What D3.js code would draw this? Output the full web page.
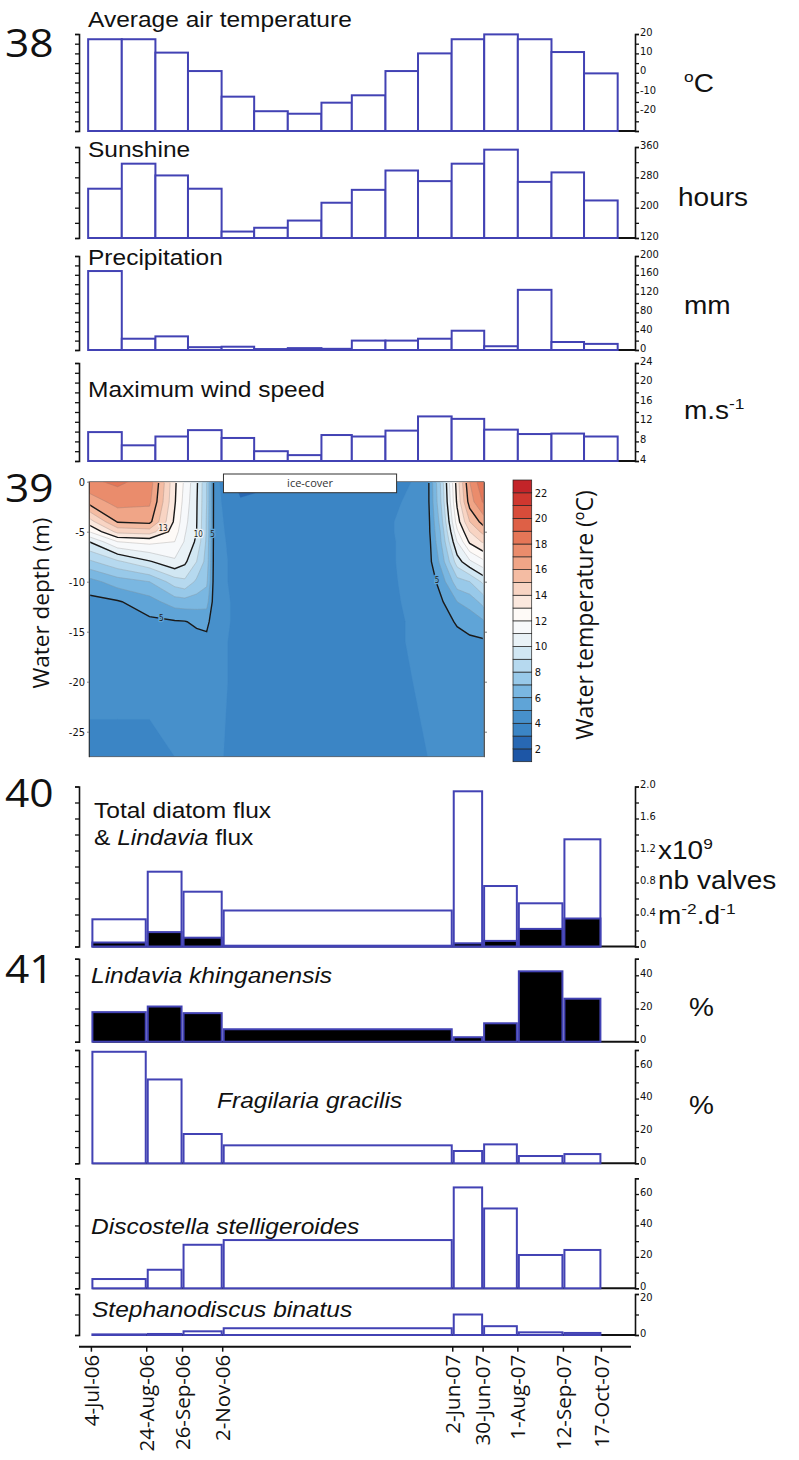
<!DOCTYPE html>
<html>
<head>
<meta charset="utf-8">
<title>Lake record 2006-2007</title>
<script src="https://cdn.jsdelivr.net/npm/d3@7/dist/d3.min.js"></script>
<style>
  body { margin: 0; background: #fff; }
  svg { display: block; }
</style>
</head>
<body>
<svg id="figure" width="799" height="1460"></svg>
<script>
// ---------------- data ----------------

// monthly meteorology, Jul 2006 - Oct 2007
const monthStarts = ["2006-07-01", "2006-08-01", "2006-09-01", "2006-10-01", "2006-11-01", "2006-12-01",
    "2007-01-01", "2007-02-01", "2007-03-01", "2007-04-01", "2007-05-01", "2007-06-01",
    "2007-07-01", "2007-08-01", "2007-09-01", "2007-10-01"];
const airTemperature = [17.3, 17.3, 10.4, 0.9, -12.3, -19.8, -21.1, -15.4, -11.6, 0.9, 10.0, 17.3, 19.8, 17.3, 10.7, -0.3];
const sunshineHours = [250, 316, 285, 250, 137, 147, 166, 213, 247, 298, 270, 316, 353, 268, 293, 219];
const precipitationMm = [168, 24, 29, 6, 7, 2, 4, 2.5, 20, 20, 24, 41, 8, 128, 17, 13];
const maxWindSpeed = [9.9, 7.2, 9.0, 10.3, 8.7, 6.0, 5.2, 9.3, 9.0, 10.2, 13.1, 12.6, 10.4, 9.5, 9.6, 9.0];

// sediment trap intervals
const sampleDates = ["2006-07-04", "2006-08-24", "2006-09-26", "2006-11-02", "2007-06-02",
    "2007-06-30", "2007-08-01", "2007-09-12", "2007-10-17"];
const sampleLabels = ["4-Jul-06", "24-Aug-06", "26-Sep-06", "2-Nov-06", "2-Jun-07",
    "30-Jun-07", "1-Aug-07", "12-Sep-07", "17-Oct-07"];
const totalDiatomFlux = [0.34, 0.935, 0.685, 0.45, 1.94, 0.756, 0.54, 1.34];
const lindaviaFlux = [0.05, 0.18, 0.11, 0.01, 0.04, 0.07, 0.22, 0.35];
const lindaviaPercent = [17.8, 21.2, 17.2, 7.5, 2.7, 11.1, 42.4, 25.9];
const fragilariaPercent = [68.9, 51.8, 18.1, 11.1, 7.6, 11.7, 4.5, 5.7];
const discostellaPercent = [5.9, 11.8, 27.7, 30.7, 64.2, 50.8, 21.2, 24.4];
const stephanodiscusPercent = [0.3, 0.5, 1.8, 3.3, 10.0, 4.3, 1.3, 1.0];

// water temperature profiles (one row per profile date, one value per depth)
const profileDates = ["2006-07-04", "2006-08-07", "2006-09-14", "2006-10-14", "2006-10-26", "2006-11-09",
    "2006-11-21", "2006-12-01", "2006-12-31", "2007-04-05", "2007-06-19", "2007-08-11",
    "2007-08-26", "2007-09-15", "2007-09-30", "2007-10-17"];
const profileDepths = [0, -2, -4, -5, -6, -8, -10, -12, -14, -16, -20, -27.5];
const waterTemperature = [
    [17.8, 16.4, 13.5, 12.0, 10.0, 7.8, 5.6, 4.7, 4.4, 4.3, 4.1, 3.9],
    [18.2, 17.4, 16.1, 14.3, 12.0, 8.8, 6.5, 4.9, 4.5, 4.3, 4.1, 3.9],
    [17.6, 17.2, 16.3, 14.5, 12.3, 9.9, 7.0, 5.6, 4.8, 4.4, 4.1, 3.9],
    [13.2, 13.1, 12.8, 12.5, 12.0, 10.8, 8.5, 6.5, 4.9, 4.6, 4.2, 4.0],
    [11.8, 11.6, 11.3, 11.1, 10.9, 10.2, 8.8, 6.6, 4.95, 4.7, 4.2, 4.0],
    [10.2, 10.1, 10.05, 10.0, 9.8, 9.0, 7.8, 6.5, 5.2, 4.6, 4.2, 4.0],
    [8.0, 8.0, 7.9, 7.9, 7.8, 7.6, 7.2, 6.4, 5.3, 4.7, 4.3, 4.1],
    [4.3, 4.3, 4.3, 4.3, 4.3, 4.3, 4.3, 4.3, 4.3, 4.2, 4.2, 4.1],
    [2.6, 3.1, 3.4, 3.5, 3.6, 3.7, 3.7, 3.8, 3.8, 3.8, 3.8, 3.8],
    [3.2, 3.6, 3.8, 3.8, 3.8, 3.8, 3.8, 3.8, 3.8, 3.8, 3.8, 3.8],
    [2.8, 3.5, 3.8, 3.8, 3.8, 3.8, 3.8, 3.8, 3.8, 3.8, 3.8, 3.8],
    [4.7, 4.7, 4.6, 4.6, 4.5, 4.5, 4.4, 4.3, 4.2, 4.2, 4.1, 4.0],
    [8.0, 7.8, 7.3, 7.0, 6.8, 6.2, 5.3, 4.8, 4.6, 4.4, 4.2, 4.0],
    [13.5, 13.2, 12.5, 11.8, 11.0, 9.5, 7.6, 6.0, 5.1, 4.7, 4.3, 4.1],
    [17.0, 16.5, 15.0, 14.0, 13.2, 10.8, 8.0, 6.4, 5.4, 4.8, 4.3, 4.1],
    [19.0, 18.2, 16.5, 15.4, 14.2, 11.8, 9.3, 7.4, 5.9, 4.85, 4.4, 4.2]
];
const iceCover = ["2006-12-11", "2007-07-05"];
const isothermLevels = d3.range(1, 23);        // 1 degC bands, 1..23
const labelledIsotherms = [5, 10, 13, 16];
const isothermLabels = [
    { value: 13, date: "2006-09-30", depth: -4.6 },
    { value: 10, date: "2006-11-11", depth: -5.2 },
    { value: 5, date: "2006-11-28", depth: -5.2 },
    { value: 5, date: "2006-09-28", depth: -13.6 },
    { value: 5, date: "2007-08-22", depth: -9.8 }
];
const colorbarTicks = [2, 4, 6, 8, 10, 12, 14, 16, 18, 20, 22];
const depthTicks = [0, -5, -10, -15, -20, -25];

// ---------------- styles ----------------
const bandColors = ["#1d56a6", "#2868b3", "#3b85c5", "#4790cb", "#5fa4d7", "#7ab7e1", "#98c9e9", "#b6d9ef",
    "#d1e7f3", "#e9f2f7", "#f7f9fb", "#fefaf7", "#fbe8de", "#f8d4c3", "#f4bca3", "#f0a587",
    "#ea8c6c", "#e57657", "#de6046", "#d84c3a", "#cf372f", "#c32429"];
const barBlue = "#4242b4";
const ink = "#111";
const sansFont = "'Liberation Sans', Arial, Helvetica, sans-serif";
const roundFont = "'Open Sans', 'Noto Sans', sans-serif";
const narrowFont = "'Liberation Sans Narrow', 'DejaVu Sans Condensed', 'Arial Narrow', sans-serif";

const parseDate = d3.timeParse("%Y-%m-%d");
const svg = d3.select("#figure");

const axisLeftX = 79, axisRightX = 635;

const xTime = d3.scaleTime()
    .domain([parseDate(sampleDates[0]), parseDate(sampleDates[sampleDates.length - 1])])
    .range([91.4, 601.4]);

// text with optional superscripts / italics, slightly widened like the original artwork
const richText = (parent, parts, x, y, size, opts = {}) => {
    const t = parent.append("text")
        .attr("transform", `translate(${x},${y}) ${opts.rotate ? `rotate(${opts.rotate})` : ""} scale(${opts.sx || 1},1)`)
        .attr("font-family", opts.family || sansFont)
        .attr("font-size", size)
        .attr("text-anchor", opts.anchor || "start")
        .attr("fill", ink);
    let shift = 0;
    parts.forEach(p => {
        const target = p.sup ? -size * 0.42 : 0;
        t.append("tspan")
            .attr("font-size", p.sup ? size * 0.62 : size)
            .attr("font-style", p.italic ? "italic" : null)
            .attr("dy", target - shift)
            .text(p.t);
        shift = target;
    });
    return t;
};

const styleAxis = (g, width) => {
    g.select(".domain").attr("stroke", ink).attr("stroke-width", width || 1.6);
    g.selectAll(".tick line").attr("stroke", ink).attr("stroke-width", 1.3);
    g.selectAll(".tick text").attr("font-family", narrowFont).attr("font-size", 11).attr("fill", ink);
};

// ---------------- bar panels ----------------
const drawBarPanel = p => {
    const g = svg.append("g").attr("class", "panel");
    const y = d3.scaleLinear().domain(p.domain).range([p.bottom, p.top]);
    const ticks = d3.range(p.domain[0], p.domain[1] + p.step / 2, p.step);
    const isLabel = d => p.labels.some(v => Math.abs(v - d) < 1e-6);

    g.append("line")
        .attr("x1", p.bars[0].x0).attr("x2", axisRightX)
        .attr("y1", p.bottom).attr("y2", p.bottom)
        .attr("stroke", ink).attr("stroke-width", 2);

    p.series.forEach(s => {
        g.selectAll(null)
            .data(p.bars.map((b, i) => ({ ...b, value: s.values[i] })))
            .join("rect")
            .attr("x", d => d.x0)
            .attr("width", d => d.x1 - d.x0)
            .attr("y", d => y(d.value))
            .attr("height", d => p.bottom - y(d.value))
            .attr("fill", s.fill)
            .attr("stroke", barBlue)
            .attr("stroke-width", 2);
    });

    g.append("g")
        .attr("transform", `translate(${axisLeftX},0)`)
        .call(d3.axisLeft(y).tickValues(ticks).tickSize(4).tickSizeOuter(4).tickFormat(""))
        .call(styleAxis);

    g.append("g")
        .attr("transform", `translate(${axisRightX},0)`)
        .call(d3.axisRight(y).tickValues(ticks).tickSize(4).tickSizeOuter(4).tickPadding(1)
            .tickFormat(d => isLabel(d) ? p.format(d) : ""))
        .call(styleAxis)
        .call(a => a.selectAll(".tick text")
            .attr("dy", "0.1em")
            .attr("y", d => (p.topLabelShift && Math.abs(d - p.domain[1]) < 1e-6) ? p.topLabelShift : 0));

    p.titles.forEach(tl => richText(g, tl.parts, tl.x, tl.y, 21.5, { sx: 1.14 }));
    p.units.forEach(u => richText(g, u.parts, u.x, u.y + 9, 25, { sx: 1.12 }));
};

const monthBars = monthStarts.map(m => {
    const d = parseDate(m);
    return { x0: xTime(d), x1: xTime(d3.timeMonth.offset(d, 1)) };
});
const sampleBars = sampleDates.slice(0, -1).map((d, i) => ({
    x0: xTime(parseDate(d)) + 1,
    x1: xTime(parseDate(sampleDates[i + 1])) - 1
}));

const plain = d => String(d);
const oneDecimal = d => d === 0 ? "0" : d3.format(".1f")(d);

const meteoPanels = [
    { values: airTemperature, domain: [-30, 20], top: 34, bottom: 131, step: 5, labels: [-20, -10, 0, 10, 20],
      titles: [{ parts: [{ t: "Average air temperature" }], x: 88, y: 26.5 }],
      units: [{ parts: [{ t: "o", sup: true }, { t: "C" }], x: 684, y: 83 }] },
    { values: sunshineHours, domain: [120, 360], top: 147, bottom: 238, step: 40, labels: [120, 200, 280, 360],
      titles: [{ parts: [{ t: "Sunshine" }], x: 88, y: 156.5 }],
      units: [{ parts: [{ t: "hours" }], x: 678, y: 197 }] },
    { values: precipitationMm, domain: [0, 200], top: 256, bottom: 350, step: 20, labels: [0, 40, 80, 120, 160, 200],
      titles: [{ parts: [{ t: "Precipitation" }], x: 88, y: 265 }],
      units: [{ parts: [{ t: "mm" }], x: 684, y: 305 }] },
    { values: maxWindSpeed, domain: [4, 24], top: 363, bottom: 461, step: 2, labels: [4, 8, 12, 16, 20, 24],
      titles: [{ parts: [{ t: "Maximum wind speed" }], x: 88, y: 396.5 }],
      units: [{ parts: [{ t: "m.s" }, { t: "-1", sup: true }], x: 684, y: 410 }] }
];
meteoPanels.forEach(p => drawBarPanel({ ...p, bars: monthBars, series: [{ values: p.values, fill: "#fff" }], format: plain }));

const diatomPanels = [
    { series: [{ values: totalDiatomFlux, fill: "#fff" }, { values: lindaviaFlux, fill: "#000" }],
      domain: [0, 2], top: 786.5, bottom: 946.5, step: 0.2, labels: [0, 0.4, 0.8, 1.2, 1.6, 2.0], format: oneDecimal,
      titles: [{ parts: [{ t: "Total diatom flux" }], x: 94, y: 818 },
               { parts: [{ t: "& " }, { t: "Lindavia", italic: true }, { t: " flux" }], x: 94, y: 845 }],
      units: [{ parts: [{ t: "x10" }, { t: "9", sup: true }], x: 658, y: 850 },
              { parts: [{ t: "nb valves" }], x: 658, y: 880 },
              { parts: [{ t: "m" }, { t: "-2", sup: true }, { t: ".d" }, { t: "-1", sup: true }], x: 658, y: 915 }] },
    { series: [{ values: lindaviaPercent, fill: "#000" }],
      domain: [0, 50], top: 958.7, bottom: 1041.7, step: 10, labels: [0, 20, 40], format: plain,
      titles: [{ parts: [{ t: "Lindavia khinganensis", italic: true }], x: 91, y: 983 }],
      units: [{ parts: [{ t: "%" }], x: 689, y: 1007 }] },
    { series: [{ values: fragilariaPercent, fill: "#fff" }],
      domain: [0, 70], top: 1050, bottom: 1163.3, step: 10, labels: [0, 20, 40, 60], format: plain,
      titles: [{ parts: [{ t: "Fragilaria gracilis", italic: true }], x: 217, y: 1108 }],
      units: [{ parts: [{ t: "%" }], x: 689, y: 1105 }] },
    { series: [{ values: discostellaPercent, fill: "#fff" }],
      domain: [0, 70], top: 1178.3, bottom: 1288.3, step: 10, labels: [0, 20, 40, 60], format: plain,
      titles: [{ parts: [{ t: "Discostella stelligeroides", italic: true }], x: 91, y: 1234 }],
      units: [] },
    { series: [{ values: stephanodiscusPercent, fill: "#fff" }],
      domain: [0, 20], top: 1294, bottom: 1335, step: 10, labels: [0, 20], format: plain, topLabelShift: 5,
      titles: [{ parts: [{ t: "Stephanodiscus binatus", italic: true }], x: 92, y: 1317 }],
      units: [] }
];
diatomPanels.forEach(p => drawBarPanel({ ...p, bars: sampleBars }));

// sampling date axis
const dateAxisY = 1346.7;
const dateAxis = svg.append("g").attr("class", "date-axis");
dateAxis.append("line")
    .attr("x1", axisLeftX).attr("x2", 631)
    .attr("y1", dateAxisY).attr("y2", dateAxisY)
    .attr("stroke", ink).attr("stroke-width", 2);
dateAxis.selectAll(".date-tick")
    .data(sampleDates)
    .join("line")
    .attr("class", "date-tick")
    .attr("x1", d => xTime(parseDate(d))).attr("x2", d => xTime(parseDate(d)))
    .attr("y1", dateAxisY).attr("y2", dateAxisY + 5)
    .attr("stroke", ink).attr("stroke-width", 1.5);
dateAxis.selectAll(".date-label")
    .data(sampleDates)
    .join("text")
    .attr("class", "date-label")
    .attr("transform", d => `translate(${xTime(parseDate(d)) + 7.3},${dateAxisY + 8}) rotate(-90)`)
    .attr("text-anchor", "end")
    .attr("font-family", roundFont)
    .attr("font-size", 20.5)
    .attr("fill", ink)
    .text((d, i) => sampleLabels[i]);

// ---------------- water temperature section ----------------
const heat = { left: 89, right: 484, top: 481.7, bottom: 756.7 };
const xHeat = d3.scaleTime()
    .domain([parseDate(sampleDates[0]), parseDate(sampleDates[sampleDates.length - 1])])
    .range([heat.left, heat.right]);
const yHeat = d3.scaleLinear().domain([0, -27.5]).range([heat.top, heat.bottom]);

const defs = svg.append("defs");
defs.append("clipPath").attr("id", "heat-clip").append("rect")
    .attr("x", heat.left).attr("y", heat.top)
    .attr("width", heat.right - heat.left).attr("height", heat.bottom - heat.top);
defs.append("clipPath").attr("id", "heat-inner").append("rect")
    .attr("x", heat.left + 1.2).attr("y", heat.top + 1.2)
    .attr("width", heat.right - heat.left - 2.4).attr("height", heat.bottom - heat.top - 2.4);

const nCols = profileDates.length, nRows = profileDepths.length;
const gridValues = [];
for (let j = 0; j < nRows; j++) {
    for (let i = 0; i < nCols; i++) gridValues.push(waterTemperature[i][j]);
}
const colX = profileDates.map(d => xHeat(parseDate(d)));
const rowY = profileDepths.map(d => yHeat(d));
const gridToPixel = (c, arr) => {
    const g = Math.max(0, Math.min(arr.length - 1, c - 0.5));
    const i0 = Math.floor(g), i1 = Math.min(i0 + 1, arr.length - 1);
    return arr[i0] + (g - i0) * (arr[i1] - arr[i0]);
};
const gridPath = d3.geoPath(d3.geoTransform({
    point(x, y) { this.stream.point(gridToPixel(x, colX), gridToPixel(y, rowY)); }
}));
const isotherms = d3.contours().size([nCols, nRows]).thresholds(isothermLevels)(gridValues);

const section = svg.append("g").attr("class", "section");
section.append("g").attr("clip-path", "url(#heat-clip)")
    .selectAll("path")
    .data(isotherms)
    .join("path")
    .attr("d", gridPath)
    .attr("fill", d => bandColors[d.value - 1])
    .attr("stroke", d => bandColors[d.value - 1])
    .attr("stroke-width", 0.3);

const lines = section.append("g").attr("clip-path", "url(#heat-inner)").attr("fill", "none");
lines.selectAll(".thin")
    .data(isotherms.filter(d => d.value >= 6 && !labelledIsotherms.includes(d.value)))
    .join("path")
    .attr("class", "thin")
    .attr("d", gridPath)
    .attr("stroke", "#7a7a7a")
    .attr("stroke-opacity", 0.45)
    .attr("stroke-width", 0.6);
lines.selectAll(".bold")
    .data(isotherms.filter(d => labelledIsotherms.includes(d.value)))
    .join("path")
    .attr("class", "bold")
    .attr("d", gridPath)
    .attr("stroke", "#1a1a1a")
    .attr("stroke-width", 1.4);

section.selectAll(".iso-label")
    .data(isothermLabels)
    .join("text")
    .attr("class", "iso-label")
    .attr("x", d => xHeat(parseDate(d.date)))
    .attr("y", d => yHeat(d.depth))
    .attr("dy", "0.35em")
    .attr("text-anchor", "middle")
    .attr("font-family", narrowFont)
    .attr("font-size", 8)
    .attr("fill", "#222")
    .attr("stroke", d => bandColors[d.value - 1])
    .attr("stroke-width", 2.5)
    .attr("paint-order", "stroke")
    .text(d => d.value);

section.append("rect")
    .attr("x", heat.left).attr("y", heat.top)
    .attr("width", heat.right - heat.left).attr("height", heat.bottom - heat.top)
    .attr("fill", "none").attr("stroke", "#666").attr("stroke-width", 0.8);

section.append("g")
    .attr("transform", `translate(${heat.left},0)`)
    .call(d3.axisLeft(yHeat).tickValues(depthTicks).tickSize(2).tickSizeOuter(0).tickPadding(2).tickFormat(plain))
    .call(g => styleAxis(g, 0.6))
    .call(g => g.selectAll(".tick line").attr("stroke", "#666").attr("stroke-width", 0.8));
section.append("g")
    .attr("transform", `translate(${heat.right},0)`)
    .call(d3.axisRight(yHeat).tickValues(depthTicks.slice(1)).tickSize(3).tickSizeOuter(0).tickFormat(""))
    .call(g => styleAxis(g, 0.6))
    .call(g => g.selectAll(".tick line").attr("stroke", "#555").attr("stroke-width", 0.8));

// ice cover box
const ice = section.append("g").attr("class", "ice");
ice.append("rect")
    .attr("x", xHeat(parseDate(iceCover[0])))
    .attr("width", xHeat(parseDate(iceCover[1])) - xHeat(parseDate(iceCover[0])))
    .attr("y", heat.top - 7.7).attr("height", 18.7)
    .attr("fill", "#fff").attr("stroke", "#333").attr("stroke-width", 1);
ice.append("text")
    .attr("x", (xHeat(parseDate(iceCover[0])) + xHeat(parseDate(iceCover[1]))) / 2)
    .attr("y", heat.top + 1.6)
    .attr("dy", "0.35em")
    .attr("text-anchor", "middle")
    .attr("font-family", roundFont)
    .attr("font-size", 11)
    .attr("fill", "#333")
    .text("ice-cover");

richText(section, [{ t: "Water depth (m)" }], 49, 603, 22.5, { family: roundFont, rotate: -90, anchor: "middle" });

// colour bar
const bar = { left: 513, width: 18.7, top: 480, bottom: 761.7 };
const yBar = d3.scaleLinear().domain([1, 23]).range([bar.bottom, bar.top]);
const colorbar = svg.append("g").attr("class", "colorbar");
colorbar.selectAll("rect")
    .data(isothermLevels)
    .join("rect")
    .attr("x", bar.left).attr("width", bar.width)
    .attr("y", d => yBar(d + 1)).attr("height", d => yBar(d) - yBar(d + 1))
    .attr("fill", d => bandColors[d - 1])
    .attr("stroke", "#222").attr("stroke-width", 0.7);
colorbar.selectAll("text")
    .data(colorbarTicks)
    .join("text")
    .attr("x", bar.left + bar.width + 3)
    .attr("y", d => yBar(d))
    .attr("dy", "0.35em")
    .attr("font-family", narrowFont)
    .attr("font-size", 11)
    .attr("fill", ink)
    .text(plain);
richText(colorbar, [{ t: "Water temperature (ºC)" }], 593, 615, 23, { family: roundFont, rotate: -90, anchor: "middle" });

// panel numbers
[["38", 57], ["39", 502], ["40", 807], ["41", 983]].forEach(([n, y]) =>
    richText(svg, [{ t: n }], 5, y, 38, { family: roundFont, sx: 1.12 }));
</script>
</body>
</html>
